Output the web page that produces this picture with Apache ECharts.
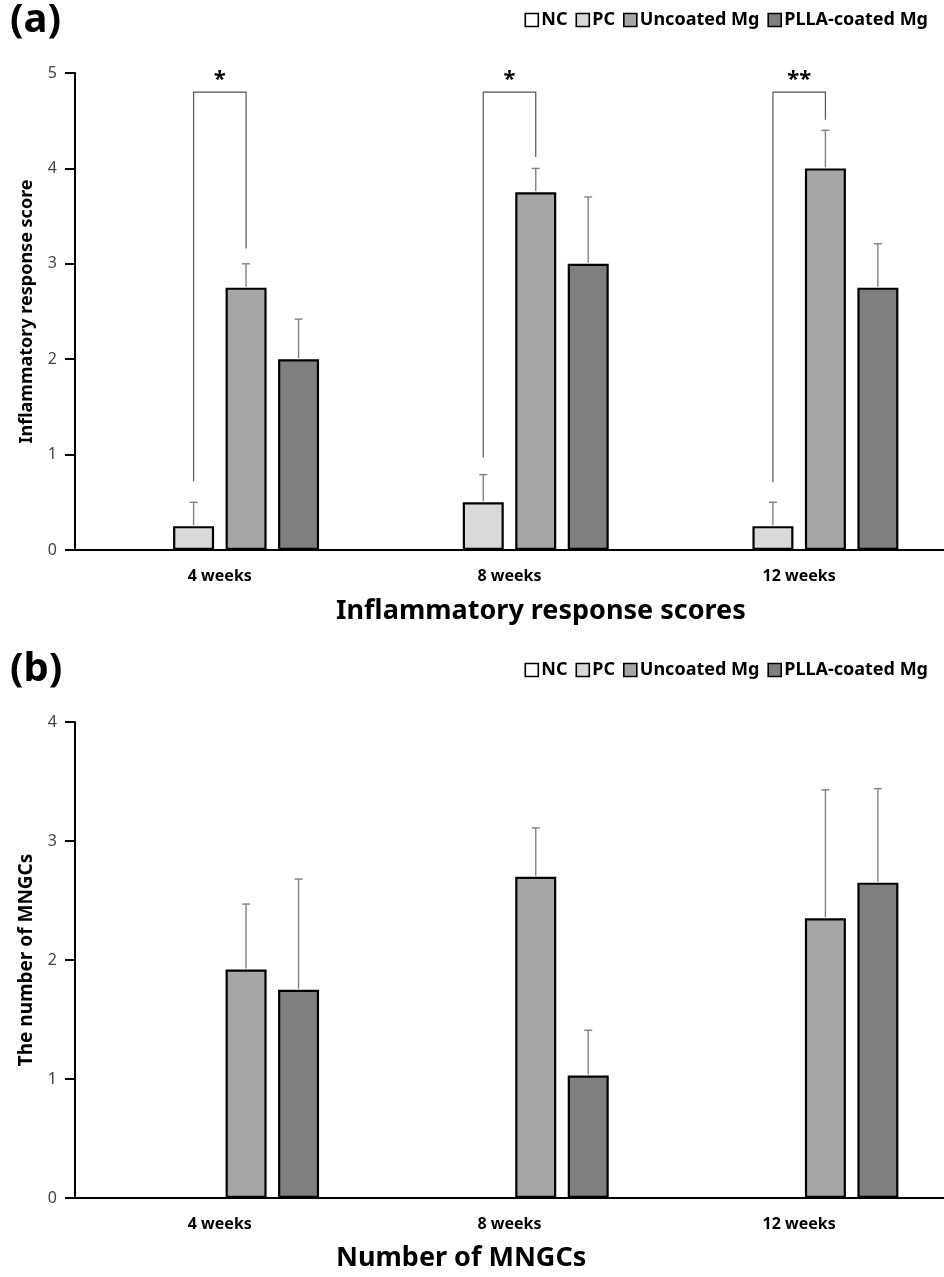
<!DOCTYPE html>
<html>
<head>
<meta charset="utf-8">
<title>Inflammatory response and MNGCs</title>
<script src="https://cdn.jsdelivr.net/npm/echarts@6/dist/echarts.min.js"></script>
<style>
  html, body { margin: 0; padding: 0; background: #ffffff; }
  #chart { width: 944px; height: 1277px; }
</style>
</head>
<body>
<div id="chart"></div>
<script>
// ---- data ----
const weeks = ['4 weeks', '8 weeks', '12 weeks'];
const groups = ['NC', 'PC', 'Uncoated Mg', 'PLLA-coated Mg'];

// (a) inflammatory response score: means and SD
const inflNC = [0, 0, 0];
const inflPC = [0.25, 0.5, 0.25];
const inflUncoated = [2.75, 3.75, 4.0];
const inflPLLA = [2.0, 3.0, 2.75];
const inflPCErr = [0.25, 0.29, 0.25];
const inflUncoatedErr = [0.25, 0.25, 0.4];
const inflPLLAErr = [0.42, 0.7, 0.46];

// (b) number of MNGCs: means and SD
const mngcNC = [0, 0, 0];
const mngcPC = [0, 0, 0];
const mngcUncoated = [1.92, 2.70, 2.35];
const mngcPLLA = [1.75, 1.03, 2.65];
const mngcUncoatedErr = [0.55, 0.41, 1.08];
const mngcPLLAErr = [0.93, 0.38, 0.79];

// significance brackets between PC and Uncoated Mg in (a)
const sigMarks = ['*', '*', '**'];
const sigTop = [4.8, 4.8, 4.8];
const sigLeftEnd = [0.72, 0.97, 0.71];
const sigRightEnd = [3.16, 4.12, 4.51];

const yTicksA = [0, 5, 1];   // min, max, interval
const yTicksB = [0, 4, 1];

// ---- styling ----
const FONT = '"Noto Sans", "DejaVu Sans", sans-serif';
const COLORS = ['#ffffff', '#d9d9d9', '#a6a6a6', '#7f7f7f'];
const BAR_W = 41;
const BAR_GAP = 0.28;
const BAR_STEP = BAR_W * (1 + BAR_GAP);
const ERR_COLOR = '#808080';

const chart = echarts.init(document.getElementById('chart'), null, { renderer: 'canvas' });

function barSeries(name, values, idx, axisIdx) {
  return {
    type: 'bar',
    name: name,
    xAxisIndex: axisIdx,
    yAxisIndex: axisIdx,
    data: values,
    barWidth: BAR_W,
    barGap: (BAR_GAP * 100) + '%',
    itemStyle: { color: COLORS[idx], borderColor: '#000', borderWidth: 2.2 },
    emphasis: { disabled: true },
    animation: false
  };
}

// error bar rows: [category, mean, mean + sd, slot]
function errRows(means, errs, slot) {
  return means.map((m, i) => [i, m, m + errs[i], slot]);
}

function errSeries(rows, axisIdx) {
  return {
    type: 'custom',
    xAxisIndex: axisIdx,
    yAxisIndex: axisIdx,
    z: 5,
    silent: true,
    animation: false,
    data: rows,
    renderItem: function (params, api) {
      const slot = api.value(3);
      const base = api.coord([api.value(0), api.value(1)]);
      const top = api.coord([api.value(0), api.value(2)]);
      const x = base[0] + (slot - 1.5) * BAR_STEP;
      const style = { stroke: ERR_COLOR, lineWidth: 1.4 };
      return {
        type: 'group',
        children: [
          { type: 'line', shape: { x1: x, y1: base[1] - 1, x2: x, y2: top[1] }, style: style },
          { type: 'line', shape: { x1: x - 4, y1: top[1], x2: x + 4, y2: top[1] }, style: style }
        ]
      };
    }
  };
}

const sigRows = sigMarks.map((m, i) => [i, sigLeftEnd[i], sigRightEnd[i], sigTop[i], m]);

const sigSeries = {
  type: 'custom',
  xAxisIndex: 0,
  yAxisIndex: 0,
  z: 6,
  silent: true,
  animation: false,
  data: sigRows,
  renderItem: function (params, api) {
    const cat = api.value(0);
    const left = api.coord([cat, api.value(1)]);
    const right = api.coord([cat, api.value(2)]);
    const top = api.coord([cat, api.value(3)]);
    const xl = left[0] - 0.5 * BAR_STEP;
    const xr = left[0] + 0.5 * BAR_STEP;
    return {
      type: 'group',
      children: [
        {
          type: 'polyline',
          shape: { points: [[xl, left[1]], [xl, top[1]], [xr, top[1]], [xr, right[1]]] },
          style: { stroke: '#555', lineWidth: 1.2, fill: null }
        },
        {
          type: 'text',
          style: {
            text: sigMarks[params.dataIndex],
            x: (xl + xr) / 2,
            y: top[1] - 1,
            align: 'center',
            verticalAlign: 'bottom',
            font: 'bold 22px ' + FONT,
            fill: '#000'
          }
        }
      ]
    };
  }
};

function xAxisDef(gridIdx) {
  return {
    type: 'category',
    gridIndex: gridIdx,
    data: weeks,
    axisLine: { lineStyle: { color: '#000', width: 2 } },
    axisTick: { show: false },
    axisLabel: { fontFamily: FONT, fontWeight: 'bold', fontSize: 16, color: '#000', margin: 18 },
    splitLine: { show: false }
  };
}

function yAxisDef(gridIdx, ticks, name, nameSize) {
  return {
    type: 'value',
    gridIndex: gridIdx,
    min: ticks[0],
    max: ticks[1],
    interval: ticks[2],
    name: name,
    nameLocation: 'middle',
    nameGap: 39,
    nameTextStyle: { fontFamily: FONT, fontWeight: 'bold', fontSize: nameSize, color: '#000' },
    axisLine: { show: true, lineStyle: { color: '#000', width: 2 } },
    axisTick: { show: true, length: 10, lineStyle: { color: '#000', width: 2 } },
    axisLabel: { fontFamily: FONT, fontSize: 16, color: '#444', margin: 18 },
    splitLine: { show: false }
  };
}

function legendDef(top) {
  return {
    top: top,
    right: 11,
    icon: 'rect',
    itemWidth: 13,
    itemHeight: 13,
    itemGap: 8,
    selectedMode: false,
    data: groups,
    itemStyle: { borderColor: '#000', borderWidth: 1.6 },
    textStyle: { fontFamily: FONT, fontWeight: 'bold', fontSize: 18, color: '#000', padding: [0, 0, 0, -2] }
  };
}

const option = {
  backgroundColor: '#ffffff',
  animation: false,
  title: [
    { text: '(a)', left: 5, top: -4, textStyle: { fontFamily: FONT, fontWeight: 'bold', fontSize: 40, color: '#000' } },
    { text: '(b)', left: 5, top: 645, textStyle: { fontFamily: FONT, fontWeight: 'bold', fontSize: 40, color: '#000' } },
    { text: 'Inflammatory response scores', left: 331, top: 593, textStyle: { fontFamily: FONT, fontWeight: 'bold', fontSize: 27, color: '#000' } },
    { text: 'Number of MNGCs', left: 331, top: 1240, textStyle: { fontFamily: FONT, fontWeight: 'bold', fontSize: 27, color: '#000' } }
  ],
  legend: [legendDef(6), legendDef(656)],
  grid: [
    { left: 75, right: 0, top: 73, height: 477 },
    { left: 75, right: 0, top: 722, height: 476 }
  ],
  xAxis: [xAxisDef(0), xAxisDef(1)],
  yAxis: [
    yAxisDef(0, yTicksA, 'Inflammatory response score', 18),
    yAxisDef(1, yTicksB, 'The number of MNGCs', 19)
  ],
  series: [
    barSeries(groups[0], inflNC, 0, 0),
    barSeries(groups[1], inflPC, 1, 0),
    barSeries(groups[2], inflUncoated, 2, 0),
    barSeries(groups[3], inflPLLA, 3, 0),
    barSeries(groups[0], mngcNC, 0, 1),
    barSeries(groups[1], mngcPC, 1, 1),
    barSeries(groups[2], mngcUncoated, 2, 1),
    barSeries(groups[3], mngcPLLA, 3, 1),
    errSeries([].concat(
      errRows(inflPC, inflPCErr, 1),
      errRows(inflUncoated, inflUncoatedErr, 2),
      errRows(inflPLLA, inflPLLAErr, 3)
    ), 0),
    errSeries([].concat(
      errRows(mngcUncoated, mngcUncoatedErr, 2),
      errRows(mngcPLLA, mngcPLLAErr, 3)
    ), 1),
    sigSeries
  ]
};

chart.setOption(option);
</script>
</body>
</html>
